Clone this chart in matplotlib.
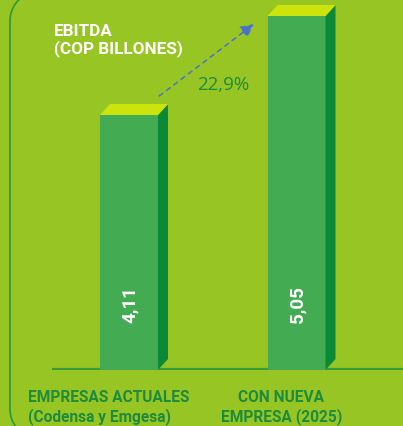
import matplotlib
matplotlib.use("Agg")
import numpy as np
import matplotlib.pyplot as plt
from matplotlib.patches import Polygon
import matplotlib.transforms as mtransforms

# ---- data ----
categories = ["EMPRESAS ACTUALES\n(Codensa y Emgesa)", "CON NUEVA\nEMPRESA (2025)"]
values = [4.11, 5.05]
value_labels = ["4,11", "5,05"]
growth_label = "22,9%"
title_text = "EBITDA\n(COP BILLONES)"

# ---- styles ----
BG = "#97C524"
FRONT = "#43AC53"
SIDE = "#0A8A37"
TOP = "#CDE40C"
DARK = "#1E8C3C"
ARROW = "#4A72C8"
FONT = "Roboto"

W, H = 403, 427
fig = plt.figure(figsize=(W / 100, H / 100), dpi=100)
fig.patch.set_facecolor(BG)

# decoration axes in pixel coordinates
bg = fig.add_axes([0, 0, 1, 1])
bg.set_xlim(0, W)
bg.set_ylim(H, 0)
bg.axis("off")
r = 30
left, top, bottom = 10, -8, 440
t1 = np.linspace(np.pi, 1.5 * np.pi, 30)
t2 = np.linspace(0.5 * np.pi, np.pi, 30)
px = np.concatenate([left + r + r * np.cos(t2), left + r + r * np.cos(t1)])
py = np.concatenate([bottom - r + r * np.sin(t2), top + r + r * np.sin(t1)])
bg.plot(px, py, color="#2A9A3A", lw=1.2)

# bar axes
base_px = 371
ax = fig.add_axes([0, (H - base_px) / H, 1, base_px / H])
ax.set_facecolor("none")
y0 = 1.6886
scale_y = 105.31  # px per unit
ax.set_ylim(y0, y0 + base_px / scale_y)
sx = 167.5
ax.set_xlim(-129 / sx, (W - 129) / sx)
ax.axis("off")

bw = 58 / sx
dx = 10 / sx
dy = 11 / scale_y

# baseline
ax.plot([52 / W, 1], [0.003, 0.003], transform=ax.transAxes, color="#3A9C36", lw=1.6,
        solid_capstyle="butt", zorder=1)

xs = list(range(len(values)))
ax.bar(xs, [v - y0 for v in values], bottom=y0, width=bw, color=FRONT, zorder=2)
for x, v in zip(xs, values):
    xl, xr = x - bw / 2, x + bw / 2
    ax.add_patch(Polygon([(xr, y0), (xr + dx, y0 + dy), (xr + dx, v + dy), (xr, v)],
                         closed=True, facecolor=SIDE, edgecolor="none", zorder=2))
    ax.add_patch(Polygon([(xl, v), (xr, v), (xr + dx, v + dy), (xl + dx, v + dy)],
                         closed=True, facecolor=TOP, edgecolor="none", zorder=2))

# value labels
vtrans = mtransforms.blended_transform_factory(ax.transData, ax.transAxes)
for x, lab in zip(xs, value_labels):
    ax.text(x + 0.005, 0.178, lab, transform=vtrans, rotation=90, ha="center", va="center",
            color="white", fontsize=13.5, fontweight="bold", family=FONT, zorder=3)

# arrow between bars
ax.annotate("", xy=(1 - 0.254, values[1] - 0.076), xytext=(0 + 0.18, values[0] + 0.18),
            arrowprops=dict(arrowstyle="-|>,head_length=0.8,head_width=0.4", color=ARROW,
                            linestyle=(0, (3, 3)), lw=1.1, shrinkA=0, shrinkB=0), zorder=3)
ax.text(0.564, 4.404, growth_label, ha="center", va="center", color=DARK,
        fontsize=13.5, family="Open Sans", zorder=3)

# title
fig.text(54 / W, 1 - 24 / H, title_text, ha="left", va="top", color="white",
         fontsize=12.3, fontweight="bold", family=FONT, linespacing=1.05)

# category labels
ax.text(28 / W, -0.050, categories[0], transform=ax.transAxes, ha="left", va="top",
        color=DARK, fontsize=11.2, fontweight="bold", family=FONT, linespacing=1.28)
ax.text(1 - 15 / sx, -0.050, categories[1], transform=vtrans, ha="center", va="top",
        color=DARK, fontsize=11.2, fontweight="bold", family=FONT, linespacing=1.28,
        multialignment="center")

fig.savefig("out.png", dpi=100, facecolor=BG)
